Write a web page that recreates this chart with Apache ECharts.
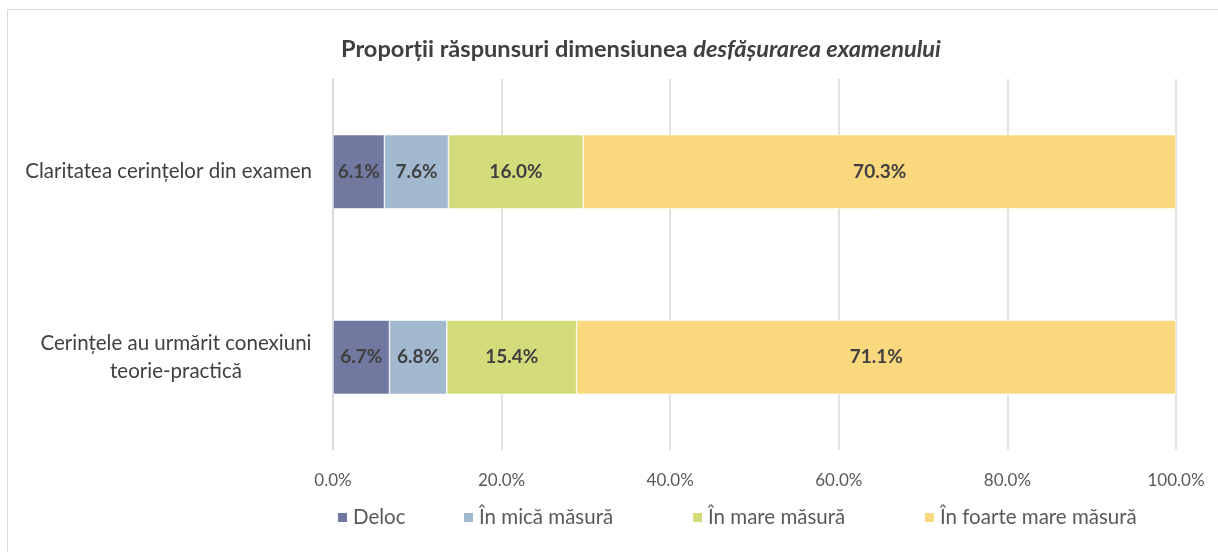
<!DOCTYPE html>
<html>
<head>
<meta charset="utf-8">
<script src="https://cdn.jsdelivr.net/npm/echarts@6/dist/echarts.min.js"></script>
<style>
  html, body { margin: 0; padding: 0; background: #ffffff; }
  #chart { width: 1218px; height: 552px; }
</style>
</head>
<body>
<div id="chart"></div>
<script>
// Survey items (top to bottom)
const categories = [
  'Claritatea cerințelor din examen',
  'Cerințele au urmărit conexiuni\nteorie-practică'
];
// Response shares per answer option, in %
const seriesNames = ['Deloc', 'În mică măsură', 'În mare măsură', 'În foarte mare măsură'];
const deloc = [6.1, 6.7];
const inMica = [7.6, 6.8];
const inMare = [16.0, 15.4];
const inFoarteMare = [70.3, 71.1];
const xTicks = [0, 20, 40, 60, 80, 100];

const colors = ['#7279a1', '#a2b8cf', '#d3db7b', '#fad97e'];
const values = [deloc, inMica, inMare, inFoarteMare];
const FONT = 'Lato, "Open Sans", sans-serif';

const chart = echarts.init(document.getElementById('chart'));

const series = seriesNames.map((name, i) => ({
  name,
  type: 'bar',
  stack: 'total',
  barWidth: '40%',
  data: values[i],
  itemStyle: { color: colors[i], borderColor: '#ffffff', borderWidth: 0.6 },
  label: {
    show: true,
    position: 'inside',
    formatter: p => p.value.toFixed(1) + '%',
    color: '#404040',
    fontFamily: FONT,
    fontWeight: 'bold',
    fontSize: 19
  }
}));

// one legend block per entry so each can sit in its own column
const legendLefts = [331, 457, 686, 918];
const legends = seriesNames.map((name, i) => ({
  data: [name],
  left: legendLefts[i],
  top: 502,
  itemWidth: 11,
  itemHeight: 11,
  icon: 'rect',
  itemGap: 6,
  textStyle: { color: '#595959', fontSize: 20.5, fontFamily: FONT }
}));

// category labels: right-aligned block, wrapped lines centred within it
const catLabelStyle = {
  color: '#404040',
  fontSize: 20.5,
  fontFamily: FONT,
  lineHeight: 28
};

chart.setOption({
  backgroundColor: '#ffffff',
  animation: false,
  graphic: [{
    type: 'rect',
    shape: { x: 7.5, y: 9.5, width: 1400, height: 700 },
    style: { fill: 'none', stroke: '#d9d9d9', lineWidth: 1 },
    silent: true
  }],
  title: {
    text: '{b|Proporții răspunsuri dimensiunea }{i|desfășurarea examenului}',
    left: 336,
    top: 32,
    textStyle: {
      rich: {
        b: { fontFamily: FONT, fontSize: 23.6, fontWeight: 'bold', color: '#404040' },
        i: { fontFamily: FONT, fontSize: 23.6, fontWeight: 'bold', fontStyle: 'italic', color: '#404040' }
      }
    }
  },
  legend: legends,
  grid: { left: 333, right: 42, top: 79, height: 371, containLabel: false },
  xAxis: {
    type: 'value',
    min: 0,
    max: 100,
    interval: 20,
    axisLine: { show: false },
    axisTick: { show: false },
    splitLine: { lineStyle: { color: '#d9d9d9', width: 1.5 } },
    axisLabel: {
      formatter: v => xTicks.includes(v) ? v.toFixed(1) + '%' : '',
      color: '#595959',
      fontSize: 17,
      fontFamily: FONT,
      margin: 22
    }
  },
  yAxis: {
    type: 'category',
    inverse: true,
    data: categories,
    axisLine: { show: true, lineStyle: { color: '#d9d9d9', width: 1.5 } },
    axisTick: { show: false },
    axisLabel: {
      margin: 21,
      align: 'right',
      formatter: v => v.split('\n').map(line => '{' + (v.includes('\n') ? 'w' : 'c') + '|' + line + '}').join('\n'),
      rich: {
        c: Object.assign({}, catLabelStyle),
        w: Object.assign({ width: 272, align: 'center' }, catLabelStyle)
      }
    }
  },
  series
});
</script>
</body>
</html>
